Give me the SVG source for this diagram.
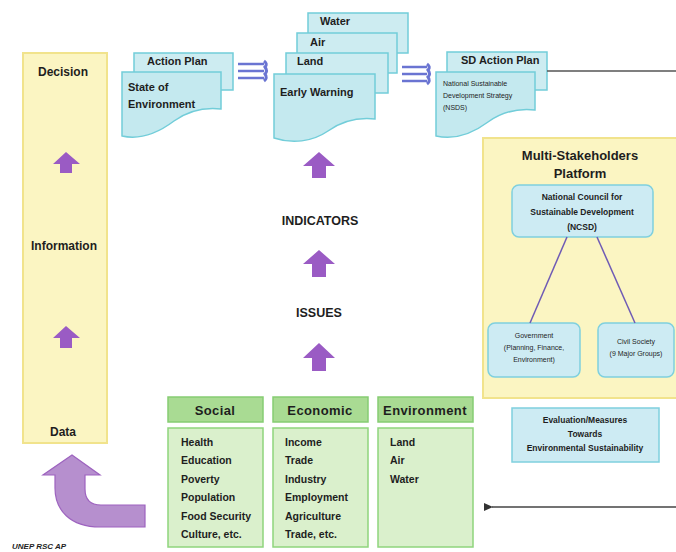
<svg xmlns="http://www.w3.org/2000/svg" width="676" height="552" viewBox="0 0 676 552">
<defs>
<style>
text{font-family:"Liberation Sans",Arial,sans-serif;font-weight:bold;fill:#1e1e1e}
.yel{fill:#fbf5c2;stroke:#f1e38c;stroke-width:2}
.doc{fill:#c4e9ef;stroke:#72cdd9;stroke-width:1.5}
.docb{fill:#cdecf1;stroke:#72cdd9;stroke-width:1.5}
.blue{fill:#cdebf3;stroke:#7fd0de;stroke-width:1.5}
.gh{fill:#a9db93;stroke:#86cd73;stroke-width:1.5}
.gb{fill:#daf0cc;stroke:#8fd57c;stroke-width:1.5}
.parr{fill:#9a5bc4}
.tri{stroke:#6a74d2;stroke-width:2.5;fill:none}
.lbl{font-size:12px}
.item{font-size:10.5px}
.hdr{font-size:13px;letter-spacing:0.4px}
.sm{font-size:7px;font-weight:normal}
.mid{text-anchor:middle}
</style>
<marker id="ah" markerWidth="10" markerHeight="10" refX="1" refY="5" orient="auto" markerUnits="userSpaceOnUse">
<path d="M0 5 L9 1 L9 9 Z" fill="#333"/>
</marker>
</defs>

<g id="left-panel">
<rect class="yel" x="23" y="53" width="84" height="390"/>
<text class="lbl mid" x="63" y="76">Decision</text>
<text class="lbl mid" x="64" y="250">Information</text>
<text class="lbl mid" x="63" y="436">Data</text>
<path class="parr" d="M66 152 L80 164 L72 164 L72 173 L60 173 L60 164 L53 164 Z"/>
<path class="parr" d="M66 326 L80 338 L72 338 L72 348 L60 348 L60 338 L53 338 Z"/>
</g>

<g id="action-plan">
<rect class="docb" x="134" y="53" width="99" height="37"/>
<text class="lbl" x="147" y="65" style="font-size:11px">Action Plan</text>
<path class="doc" d="M122 72 H221 V109 C203 107 188 111 174 121 C158 133 140 140 122 136 Z"/>
<text class="lbl" x="128" y="91" style="font-size:11px">State of</text>
<text class="lbl" x="128" y="108" style="font-size:11px">Environment</text>
</g>

<g id="early-warning">
<rect class="docb" x="308" y="13" width="100" height="40"/>
<text class="lbl" x="320" y="25" style="font-size:11px">Water</text>
<rect class="docb" x="297" y="33" width="100" height="40"/>
<text class="lbl" x="310" y="46" style="font-size:11px">Air</text>
<rect class="docb" x="286" y="53" width="102" height="40"/>
<text class="lbl" x="297" y="65" style="font-size:11px">Land</text>
<path class="doc" d="M274 74 H375 V119 C356 117 342 121 328 131 C312 142 292 144 274 138 Z"/>
<text class="lbl" x="280" y="96" style="font-size:11px">Early Warning</text>
</g>

<g id="sd-action-plan">
<rect class="docb" x="447" y="52" width="100" height="38"/>
<text class="lbl" x="461" y="64" style="font-size:11px">SD Action Plan</text>
<path class="doc" d="M436 72 H535 V110 C517 108 502 112 488 122 C472 134 454 140 436 136 Z"/>
<text class="sm" x="443" y="86">National Sustainable</text>
<text class="sm" x="443" y="98">Development Strategy</text>
<text class="sm" x="443" y="110">(NSDS)</text>
</g>

<g id="platform">
<rect class="yel" x="483" y="138" width="195" height="260"/>
<text class="mid" x="580" y="160" style="font-size:13px">Multi-Stakeholders</text>
<text class="mid" x="580" y="178" style="font-size:13px">Platform</text>
</g>

<g id="ncsd">
<rect class="blue" x="512" y="185" width="141" height="52" rx="7"/>
<text class="mid" x="582" y="200" style="font-size:8.5px">National Council for</text>
<text class="mid" x="582" y="215" style="font-size:8.5px">Sustainable Development</text>
<text class="mid" x="582" y="230" style="font-size:8.5px">(NCSD)</text>
</g>

<g id="government">
<rect class="blue" x="488" y="323" width="92" height="54" rx="7"/>
<text class="mid sm" x="534" y="338">Government</text>
<text class="mid sm" x="534" y="350">(Planning, Finance,</text>
<text class="mid sm" x="534" y="362">Environment)</text>
</g>

<g id="civil-society">
<rect class="blue" x="598" y="323" width="76" height="54" rx="7"/>
<text class="mid sm" x="636" y="344">Civil Society</text>
<text class="mid sm" x="636" y="356">(9 Major Groups)</text>
</g>

<g id="evaluation">
<rect class="blue" x="512" y="408" width="147" height="54"/>
<text class="mid" x="585" y="423" style="font-size:8.5px">Evaluation/Measures</text>
<text class="mid" x="585" y="437" style="font-size:8.5px">Towards</text>
<text class="mid" x="585" y="451" style="font-size:8.5px">Environmental Sustainability</text>
</g>

<g id="social">
<rect class="gh" x="168" y="397" width="95" height="25"/>
<text class="hdr mid" x="215" y="415">Social</text>
<rect class="gb" x="168" y="428" width="95" height="119"/>
<text class="item" x="181" y="446">Health</text>
<text class="item" x="181" y="464">Education</text>
<text class="item" x="181" y="483">Poverty</text>
<text class="item" x="181" y="501">Population</text>
<text class="item" x="181" y="520">Food Security</text>
<text class="item" x="181" y="538">Culture, etc.</text>
</g>

<g id="economic">
<rect class="gh" x="273" y="397" width="95" height="25"/>
<text class="hdr mid" x="320" y="415">Economic</text>
<rect class="gb" x="273" y="428" width="95" height="119"/>
<text class="item" x="285" y="446">Income</text>
<text class="item" x="285" y="464">Trade</text>
<text class="item" x="285" y="483">Industry</text>
<text class="item" x="285" y="501">Employment</text>
<text class="item" x="285" y="520">Agriculture</text>
<text class="item" x="285" y="538">Trade, etc.</text>
</g>

<g id="environment">
<rect class="gh" x="378" y="397" width="95" height="25"/>
<text class="hdr mid" x="425" y="415">Environment</text>
<rect class="gb" x="378" y="428" width="95" height="119"/>
<text class="item" x="390" y="446">Land</text>
<text class="item" x="390" y="464">Air</text>
<text class="item" x="390" y="483">Water</text>
</g>

<g id="center-labels">
<text class="mid" x="320" y="225" style="font-size:12.5px">INDICATORS</text>
<text class="mid" x="319" y="317" style="font-size:12.5px">ISSUES</text>
</g>

<g id="connectors">
<path class="parr" d="M319 152 L335 166 L326 166 L326 178 L312 178 L312 166 L303 166 Z"/>
<path class="parr" d="M319 250 L335 264 L326 264 L326 277 L312 277 L312 264 L303 264 Z"/>
<path class="parr" d="M319 343 L335 358 L326 358 L326 371 L312 371 L312 358 L303 358 Z"/>
<g class="tri">
<line x1="238" y1="64" x2="264" y2="64"/>
<line x1="238" y1="71" x2="264" y2="71"/>
<line x1="238" y1="78" x2="264" y2="78"/>
<path d="M264 61 Q268 64 265 67 Q268 71 265 74 Q268 78 264 81" stroke-width="3"/>
</g>
<g class="tri">
<line x1="402" y1="67" x2="427" y2="67"/>
<line x1="402" y1="74" x2="427" y2="74"/>
<line x1="402" y1="81" x2="427" y2="81"/>
<path d="M427 64 Q431 67 428 70 Q431 74 428 77 Q431 81 427 84" stroke-width="3"/>
</g>
<line x1="547" y1="71" x2="676" y2="71" stroke="#555" stroke-width="1.6"/>
<line x1="567" y1="237" x2="530" y2="323" stroke="#6f5bb5" stroke-width="1.5"/>
<line x1="597" y1="237" x2="635" y2="323" stroke="#6f5bb5" stroke-width="1.5"/>
<line x1="676" y1="507" x2="492" y2="507" stroke="#444" stroke-width="1.6" marker-end="url(#ah)"/>
<path d="M72 455 L100 475 L85 475 L85 489 Q85 505 101 505 L145 505 L145 527 L100 527 C70 527 55 510 55 488 L55 475 L43 475 Z" fill="#b68fce" stroke="#9d63bf" stroke-width="1.2"/>
</g>

<text x="12" y="549" style="font-size:8px;font-style:italic">UNEP RSC AP</text>
</svg>
